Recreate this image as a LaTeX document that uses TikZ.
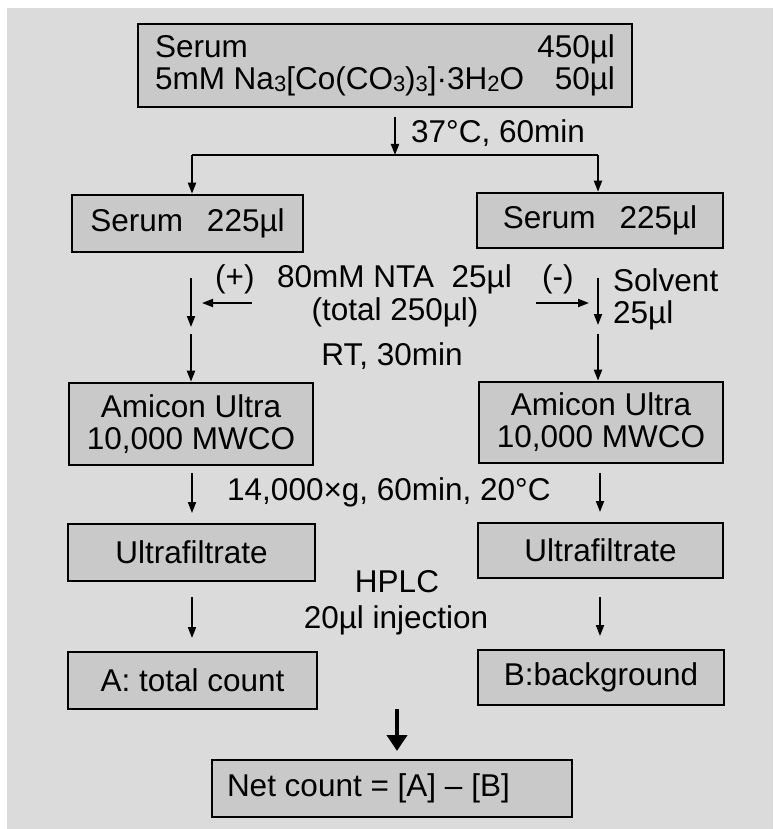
\documentclass[tikz,border=0pt]{standalone}
\usepackage{fontspec}
\setmainfont{Liberation Sans}
\usetikzlibrary{arrows.meta}
\definecolor{bgc}{gray}{0.86}
\definecolor{boxc}{gray}{0.79}
\tikzset{
 box/.style={draw=black, line width=2.6pt, fill=boxc, inner sep=0pt, align=center, font=\fontsize{31.5}{32}\selectfont},
 lbl/.style={inner sep=0pt, font=\fontsize{31.5}{32}\selectfont},
 arr/.style={-{Triangle[length=11pt,width=8pt]}, line width=1.9pt},
 bigarr/.style={-{Triangle[length=16pt,width=20pt]}, line width=4pt},
}
\newcommand\chemsub[1]{\raisebox{-0.12ex}{\fontsize{22}{22}\selectfont #1}}
\begin{document}
\begin{tikzpicture}[x=1pt,y=-1pt]
\fill[white] (0,0) rectangle (773,829);
\fill[bgc] (7,8) rectangle (773,829);
\useasboundingbox (0,0) rectangle (773,829);

% boxes
\node[box, minimum width=494pt, minimum height=83pt] (top) at (385,65.5)
 {\parbox{460pt}{Serum\hfill 450µl\\5mM Na\chemsub{3}[Co(CO\chemsub{3})\chemsub{3}]·3H\chemsub{2}O\hfill 50µl}};
\node[box, minimum width=231pt, minimum height=57pt] (sL) at (187.5,223.5) {Serum\hspace{24pt}225µl};
\node[box, minimum width=246pt, minimum height=55pt] (sR) at (600,220.5) {Serum\hspace{24pt}225µl};
\node[box, minimum width=244pt, minimum height=82pt] (amL) at (191,424) {Amicon Ultra\\10,000 MWCO};
\node[box, minimum width=244pt, minimum height=81pt] (amR) at (601,422.5) {Amicon Ultra\\10,000 MWCO};
\node[box, minimum width=247pt, minimum height=57pt] (ufL) at (191.5,552.5) {Ultrafiltrate};
\node[box, minimum width=245pt, minimum height=55pt] (ufR) at (600.5,550.5) {Ultrafiltrate};
\node[box, minimum width=249pt, minimum height=57pt] (A) at (192.5,680.5) {A: total count};
\node[box, minimum width=246pt, minimum height=55pt] (B) at (601,677.5) {B:background};
\node[box, minimum width=360pt, minimum height=57pt] (net) at (392,788.5) {\makebox[330pt][l]{Net count = [A] – [B]}};

% coordinates
\coordinate (jt) at (395,117);
\coordinate (j) at (395,155);
\coordinate (jl) at (192,155);
\coordinate (jr) at (598,155);
\coordinate (l1s) at (191,278);
\coordinate (l1e) at (191,327);
\coordinate (l2s) at (191,334);
\coordinate (r1s) at (598,278);
\coordinate (r1e) at (598,325);
\coordinate (r2s) at (598,334);
\coordinate (hls) at (252,303);
\coordinate (hle) at (202,303);
\coordinate (hrs) at (536,303);
\coordinate (hre) at (589,303);
\coordinate (l3s) at (192,473);
\coordinate (l3e) at (192,513);
\coordinate (r3s) at (600,473);
\coordinate (r3e) at (600,512);
\coordinate (l4s) at (192,597);
\coordinate (l4e) at (192,638);
\coordinate (r4s) at (600,597);
\coordinate (r4e) at (600,636);
\coordinate (bs) at (397,709);
\coordinate (be) at (397,751);

% connectors
\draw[arr] (jt) -- (j);
\draw[line width=1.9pt] (jl) -- (jr);
\draw[arr] (jl) -- (sL.north -| jl);
\draw[arr] (jr) -- (sR.north -| jr);
\draw[arr] (l1s) -- (l1e);
\draw[arr] (l2s) -- (amL.north -| l2s);
\draw[arr] (r1s) -- (r1e);
\draw[arr] (r2s) -- (amR.north -| r2s);
\draw[arr] (hls) -- (hle);
\draw[arr] (hrs) -- (hre);
\draw[arr] (l3s) -- (l3e);
\draw[arr] (r3s) -- (r3e);
\draw[arr] (l4s) -- (l4e);
\draw[arr] (r4s) -- (r4e);
\draw[bigarr] (bs) -- (be);

% labels
\node[lbl, anchor=base west] (t37) at (411,143) {37°C, 60min};
\node[lbl, anchor=base west] (plus) at (215,287) {(+)};
\node[lbl, anchor=base west] (nta) at (277,287) {80mM NTA\ \ 25µl};
\node[lbl, anchor=base] (tot) at (395,320) {(total 250µl)};
\node[lbl, anchor=base] (rt) at (392,365) {RT, 30min};
\node[lbl, anchor=base west] (minus) at (542,287) {(-)};
\node[lbl, anchor=base west] (solv) at (613,291) {Solvent};
\node[lbl, anchor=base west] (s25) at (613,323) {25µl};
\node[lbl, anchor=base west] (spin) at (227,500) {14,000×g, 60min, 20°C};
\node[lbl, anchor=base] (hplc) at (397,592) {HPLC};
\node[lbl, anchor=base] (inj) at (396,628) {20µl injection};
\end{tikzpicture}
\end{document}
